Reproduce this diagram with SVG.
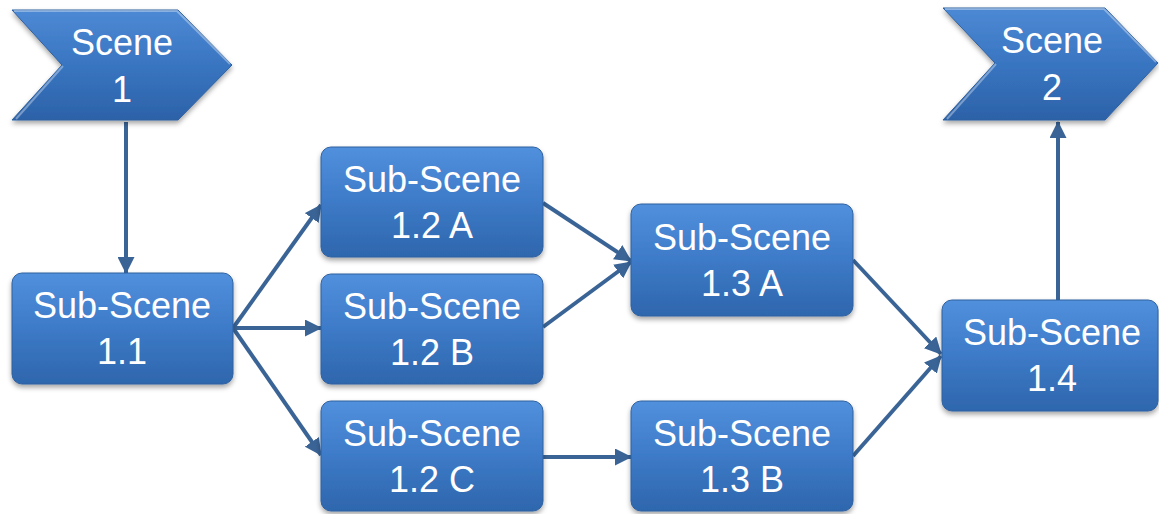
<svg xmlns="http://www.w3.org/2000/svg" width="1159" height="514" viewBox="0 0 1159 514">
<style>
.box{fill:url(#g);stroke:#2f61a0;stroke-width:1;filter:url(#sh)}
.chev{fill:url(#gc);stroke:#2f61a0;stroke-width:1;filter:url(#sh)}
.hl{fill:none;stroke:#ffffff;stroke-opacity:0.35;stroke-width:2}
.t{font-family:"Liberation Sans",Arial,sans-serif;font-size:36px;fill:#ffffff;text-anchor:middle}
.c{stroke:#3a6496;stroke-width:4;fill:none;marker-end:url(#ah)}
</style>
<defs>
<linearGradient id="g" x1="0" y1="0" x2="0" y2="1">
<stop offset="0" stop-color="#5190dd"/>
<stop offset="0.5" stop-color="#3d7ac7"/>
<stop offset="1" stop-color="#2e66ad"/>
</linearGradient>
<linearGradient id="gc" x1="0" y1="0" x2="0" y2="1">
<stop offset="0" stop-color="#4d89d4"/>
<stop offset="0.5" stop-color="#3975c1"/>
<stop offset="1" stop-color="#2c62a8"/>
</linearGradient>
<filter id="sh" x="-10%" y="-10%" width="120%" height="130%">
<feDropShadow dx="0" dy="3" stdDeviation="2.5" flood-color="#000" flood-opacity="0.35"/>
</filter>
<marker id="ah" markerWidth="17" markerHeight="17" refX="16" refY="8.5" orient="auto" markerUnits="userSpaceOnUse">
<path d="M0,0 L17,8.5 L0,17 Z" fill="#3a6496"/>
</marker>
</defs>
<g id="connectors">
<line class="c" x1="126" y1="122" x2="126" y2="273"/>
<line class="c" x1="233" y1="328" x2="321" y2="205"/>
<line class="c" x1="233" y1="328" x2="321" y2="328"/>
<line class="c" x1="233" y1="328" x2="321" y2="455"/>
<line class="c" x1="543" y1="203" x2="631" y2="261"/>
<line class="c" x1="543" y1="327" x2="631" y2="262"/>
<line class="c" x1="543" y1="457" x2="631" y2="457"/>
<line class="c" x1="853" y1="260" x2="941" y2="354"/>
<line class="c" x1="853" y1="456" x2="941" y2="356"/>
<line class="c" x1="1058" y1="300" x2="1058" y2="122"/>
</g>
<g id="scene1">
<path class="chev" d="M12,10 L178,10 L232,65 L178,120 L12,120 L62,65 Z"/>
<path class="hl" d="M14,11 L177,11 L230,64 M16,119 L63,66"/>
<text class="t" x="122" y="55">Scene</text>
<text class="t" x="122" y="102">1</text>
</g>
<g id="scene2">
<path class="chev" d="M943,8 L1105,8 L1158,63 L1105,120 L943,120 L995,63 Z"/>
<path class="hl" d="M945,9 L1104,9 L1156,62 M947,119 L996,64"/>
<text class="t" x="1052" y="53">Scene</text>
<text class="t" x="1052" y="100">2</text>
</g>
<g id="sub11">
<rect class="box" x="12" y="273" width="221" height="111" rx="10"/>
<text class="t" x="122" y="318">Sub-Scene</text>
<text class="t" x="122" y="364">1.1</text>
</g>
<g id="sub12a">
<rect class="box" x="321" y="147" width="222" height="110" rx="10"/>
<text class="t" x="432" y="192">Sub-Scene</text>
<text class="t" x="432" y="238">1.2 A</text>
</g>
<g id="sub12b">
<rect class="box" x="321" y="274" width="222" height="110" rx="10"/>
<text class="t" x="432" y="319">Sub-Scene</text>
<text class="t" x="432" y="365">1.2 B</text>
</g>
<g id="sub12c">
<rect class="box" x="321" y="401" width="222" height="110" rx="10"/>
<text class="t" x="432" y="446">Sub-Scene</text>
<text class="t" x="432" y="492">1.2 C</text>
</g>
<g id="sub13a">
<rect class="box" x="631" y="204" width="222" height="112" rx="10"/>
<text class="t" x="742" y="250">Sub-Scene</text>
<text class="t" x="742" y="296">1.3 A</text>
</g>
<g id="sub13b">
<rect class="box" x="631" y="401" width="222" height="110" rx="10"/>
<text class="t" x="742" y="446">Sub-Scene</text>
<text class="t" x="742" y="492">1.3 B</text>
</g>
<g id="sub14">
<rect class="box" x="942" y="300" width="216" height="111" rx="10"/>
<text class="t" x="1052" y="345">Sub-Scene</text>
<text class="t" x="1052" y="391">1.4</text>
</g>
</svg>
